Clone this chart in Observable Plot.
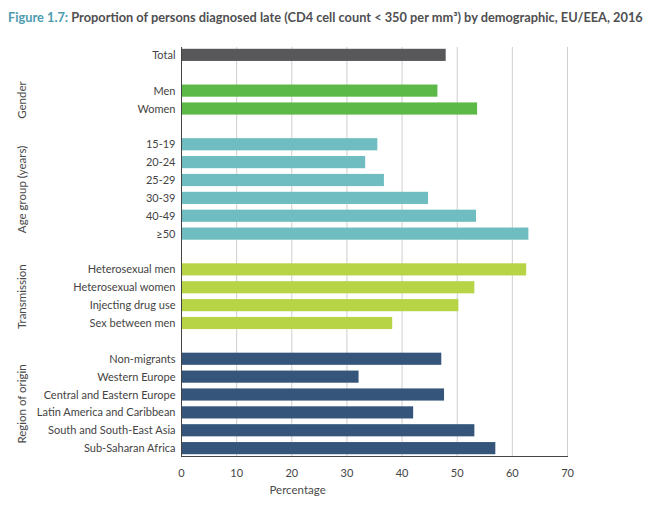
<!DOCTYPE html>
<html>
<head>
<meta charset="utf-8">
<script src="https://cdn.jsdelivr.net/npm/d3@7"></script>
<script src="https://cdn.jsdelivr.net/npm/@observablehq/plot@0.6"></script>
<style>
  html, body { margin: 0; padding: 0; background: #fff; }
  #title { font-family: Lato, "Open Sans", sans-serif; font-weight: bold; font-size: 12.8px; color: #4f4f51; padding: 9px 0 0 8px; height: 21px; white-space: nowrap; }
  #title .fig { color: #4c9cb0; }
  #chart svg { display: block; }
</style>
</head>
<body>
<div id="title"><span class="fig">Figure 1.7:</span> Proportion of persons diagnosed late (CD4 cell count &lt; 350 per mm³) by demographic, EU/EEA, 2016</div>
<div id="chart"></div>
<script>
const totalLabels = ["Total"];
const totalValues = [48.0];
const genderLabels = ["Men", "Women"];
const genderValues = [46.5, 53.7];
const ageLabels = ["15-19", "20-24", "25-29", "30-39", "40-49", "≥50"];
const ageValues = [35.6, 33.4, 36.8, 44.8, 53.5, 63.0];
const transmissionLabels = ["Heterosexual men", "Heterosexual women", "Injecting drug use", "Sex between men"];
const transmissionValues = [62.6, 53.2, 50.3, 38.3];
const regionLabels = ["Non-migrants", "Western Europe", "Central and Eastern Europe", "Latin America and Caribbean", "South and South-East Asia", "Sub-Saharan Africa"];
const regionValues = [47.2, 32.2, 47.7, 42.1, 53.2, 57.0];
const groupNames = ["", "Gender", "Age group (years)", "Transmission", "Region of origin"];
const groupColors = ["#58585a", "#5cb947", "#6fbdc0", "#b6d445", "#35557a"];
const xTicks = [0, 10, 20, 30, 40, 50, 60, 70];
const xLabel = "Percentage";

const groups = [
  [totalLabels, totalValues],
  [genderLabels, genderValues],
  [ageLabels, ageValues],
  [transmissionLabels, transmissionValues],
  [regionLabels, regionValues]
];

const rows = [];
const domain = [];
const groupMarks = [];
groups.forEach(([labels, values], gi) => {
  if (gi > 0) domain.push("__gap" + gi);
  labels.forEach((l, i) => {
    rows.push({label: l, value: values[i], group: gi});
    domain.push(l);
  });
  if (groupNames[gi]) {
    // anchor on the row just above the middle of the group (all groups have an even count)
    groupMarks.push({name: groupNames[gi], anchor: labels[labels.length / 2 - 1]});
  }
});

const W = 657, H = 476, MT = 17, MB = 50, ML = 181, MR = 90;
const padInner = 0.32, padOuter = 0.1;
const step = (H - MT - MB) / (domain.length - padInner + 2 * padOuter);

const font = "Lato, 'Open Sans', sans-serif";

const chart = Plot.plot({
  width: W,
  height: H,
  marginTop: MT,
  marginBottom: MB,
  marginLeft: ML,
  marginRight: MR,
  style: {fontFamily: font, fontSize: "11px", color: "#444", background: "#fff"},
  x: {
    domain: [0, 70],
    ticks: xTicks,
    tickSize: 0,
    tickPadding: 13,
    line: true,
    label: null
  },
  y: {
    domain: domain,
    paddingInner: padInner,
    paddingOuter: padOuter,
    round: false,
    tickSize: 0,
    tickPadding: 6,
    line: true,
    label: null,
    tickFormat: d => d.startsWith("__gap") ? "" : d
  },
  marks: [
    Plot.ruleX(xTicks.slice(1), {stroke: "#cfcfcf", strokeWidth: 1}),
    Plot.barX(rows, {x: "value", y: "label", fill: d => groupColors[d.group]}),
    Plot.ruleX([0], {stroke: "#444", strokeWidth: 1}),
    Plot.text([xLabel], {frameAnchor: "bottom-left", text: d => d, dx: 88, dy: 37, fontSize: 11.5, fill: "#4a4a4a", textAnchor: "start"}),
    Plot.text(groupMarks, {y: "anchor", text: "name", frameAnchor: "left", dx: -159, dy: step / 2, rotate: -90, textAnchor: "middle", fontSize: 11.5, fill: "#4a4a4a"})
  ]
});
document.getElementById("chart").appendChild(chart);
</script>
</body>
</html>
